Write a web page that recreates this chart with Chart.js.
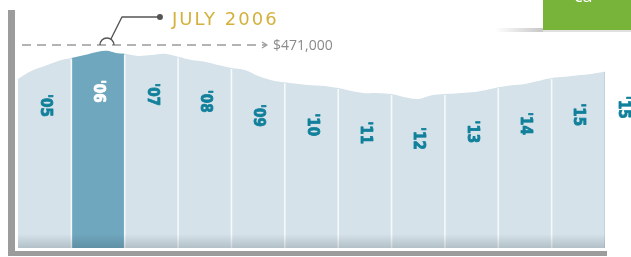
<!DOCTYPE html>
<html><head><meta charset="utf-8">
<script src="https://cdn.jsdelivr.net/npm/chart.js@4.4.1/dist/chart.umd.min.js"></script>
<style>html,body{margin:0;padding:0;background:#fff;overflow:hidden}canvas{display:block}</style>
</head><body>
<canvas id="c" width="631" height="257"></canvas>
<script>
// months since Jan 2005
const months = [0,3,6,9,12,15,18,20,22,24,27,30,33,36,39,42,45,48,51,54,57,60,63,66,69,72,75,78,81,84,87,90,93,96,99,102,105,108,111,114,117,120,123,126,129,132];
// price in thousands of dollars
const values = [404,423,435,447,454,461,469,471,466,464,459,461,464,457,449,445,437,430,425,411,401,396,392,389,387,382,375,370,370,368,360,356,365,368,370,372,377,384,389,392,399,406,409,413,416,421];
const yearLabels = ["'05","'06","'07","'08","'09","'10","'11","'12","'13","'14","'15"];
const highlightYear = 1;
const edgeLabel = "'15";
const peakLabel = "JULY 2006";
const peakValueText = "$471,000";

const LIGHT = '#d5e2ea', DARK = '#6fa7be', TEAL = '#12809b';

const deco = {
  id: 'deco',
  beforeDraw(chart) {
    const c = chart.ctx;
    c.save();
    c.fillStyle = '#79b43a';
    c.fillRect(543, 0, 88, 30);
    const sg = c.createLinearGradient(495, 0, 543, 0);
    sg.addColorStop(0, 'rgba(0,0,0,0)');
    sg.addColorStop(1, 'rgba(0,0,0,0.22)');
    c.fillStyle = sg;
    c.fillRect(495, 28, 48, 4);
    c.fillStyle = 'rgba(0,0,0,0.12)';
    c.fillRect(543, 30, 88, 2);
    c.fillStyle = '#ffffff';
    c.font = '18px "Open Sans", sans-serif';
    c.textBaseline = 'alphabetic';
    c.fillText('ca', 574, 2);
    c.fillStyle = '#9c9c9c';
    c.fillRect(8, 10, 7, 246);
    c.fillRect(8, 251, 599, 5);
    c.restore();
  },
  afterDatasetsDraw(chart) {
    const c = chart.ctx;
    const meta = chart.getDatasetMeta(0);
    const a = chart.chartArea;
    const xs = chart.scales.x;
    const pt = m => meta.data[months.indexOf(m)];
    c.save();
    c.strokeStyle = '#f6f9fb';
    c.lineWidth = 1.6;
    for (let k = 1; k < yearLabels.length; k++) {
      const p = pt(12 * k);
      c.beginPath();
      c.moveTo(p.x, p.y + 1);
      c.lineTo(p.x, a.bottom);
      c.stroke();
    }
    const pe = meta.data[meta.data.length - 1];
    c.strokeStyle = '#c3d1d9';
    c.lineWidth = 1;
    c.beginPath(); c.moveTo(pe.x - 0.5, pe.y); c.lineTo(pe.x - 0.5, a.bottom); c.stroke();
    const g = c.createLinearGradient(0, a.bottom - 14, 0, a.bottom);
    g.addColorStop(0, 'rgba(40,55,65,0)');
    g.addColorStop(1, 'rgba(40,55,65,0.2)');
    c.fillStyle = g;
    c.fillRect(a.left, a.bottom - 14, a.right - a.left, 14);
    c.font = 'bold 15px "DejaVu Sans Condensed", "DejaVu Sans", sans-serif';
    c.textBaseline = 'middle';
    c.textAlign = 'left';
    c.lineJoin = 'round';
    const drawLab = (txt, x, y, col) => {
      c.save();
      c.translate(x, y);
      c.rotate(Math.PI / 2);
      c.fillStyle = col;
      c.strokeStyle = col;
      c.lineWidth = 0.8;
      c.fillText(txt, 0, 0);
      c.strokeText(txt, 0, 0);
      c.restore();
    };
    yearLabels.forEach((lab, k) => {
      const p = pt(12 * k + 6);
      drawLab(lab, p.x, p.y + 28, k === highlightYear ? '#ffffff' : TEAL);
    });
    drawLab(edgeLabel, xs.getPixelForValue(136), pe.y + 24, TEAL);
    const peakI = values.indexOf(Math.max(...values));
    const pk = meta.data[peakI];
    const dy = Math.round(pk.y - 6);
    c.strokeStyle = '#9a9a9a';
    c.lineWidth = 1.3;
    c.setLineDash([9, 6]);
    c.beginPath(); c.moveTo(a.left + 4, dy); c.lineTo(266, dy); c.stroke();
    c.setLineDash([]);
    c.beginPath(); c.moveTo(262, dy - 3); c.lineTo(267, dy); c.lineTo(262, dy + 3); c.stroke();
    c.fillStyle = '#8a8a8a';
    c.font = '14px "Open Sans", sans-serif';
    c.textBaseline = 'middle';
    c.fillText(peakValueText, 273, dy + 1);
    c.strokeStyle = '#555555';
    c.lineWidth = 1.4;
    c.beginPath(); c.arc(pk.x, dy, 7, Math.PI, 2 * Math.PI); c.stroke();
    c.beginPath();
    c.moveTo(pk.x + 4, dy - 6);
    c.lineTo(pk.x + 15, 17);
    c.lineTo(pk.x + 53, 17);
    c.stroke();
    c.fillStyle = '#555555';
    c.beginPath(); c.arc(pk.x + 53, 17, 3, 0, 2 * Math.PI); c.fill();
    c.fillStyle = '#d4b13c';
    c.font = '18px "DejaVu Sans", sans-serif';
    c.letterSpacing = '2px';
    c.textBaseline = 'alphabetic';
    c.fillText(peakLabel, pk.x + 65, 25);
    c.restore();
  }
};

new Chart(document.getElementById('c'), {
  type: 'line',
  data: {
    datasets: [{
      data: months.map((m, i) => ({ x: m, y: values[i] })),
      fill: 'origin',
      backgroundColor: LIGHT,
      borderWidth: 0,
      borderColor: 'rgba(0,0,0,0)',
      pointRadius: 0,
      tension: 0.35,
      segment: {
        backgroundColor: ctx => {
          const m = months[ctx.p0DataIndex];
          return (m >= 12 * highlightYear && m < 12 * (highlightYear + 1)) ? DARK : LIGHT;
        }
      }
    }]
  },
  options: {
    responsive: false,
    animation: false,
    devicePixelRatio: 1,
    layout: { padding: { left: 18, right: 26, top: 45, bottom: 9 } },
    scales: {
      x: { type: 'linear', min: 0, max: 132, display: false },
      y: { min: 0, max: 485, display: false }
    },
    plugins: { legend: { display: false }, tooltip: { enabled: false } }
  },
  plugins: [deco]
});
</script>
</body></html>
